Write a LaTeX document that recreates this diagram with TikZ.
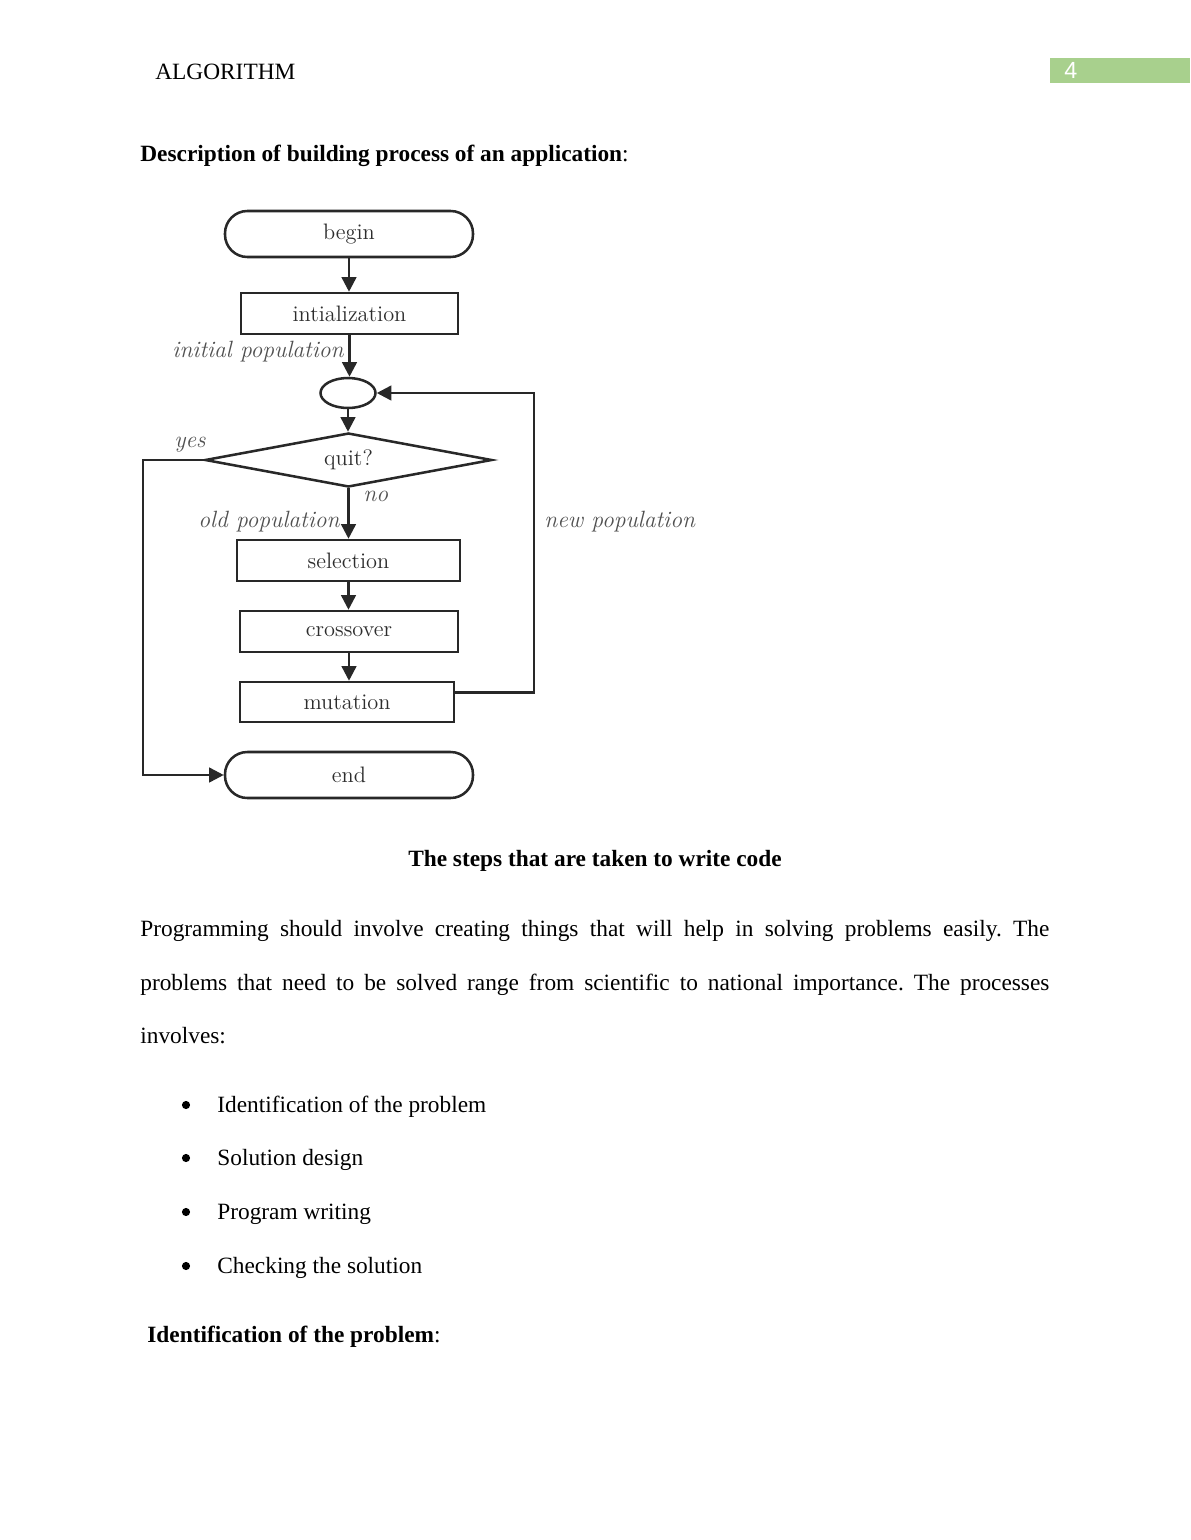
\documentclass[tikz,border=0pt]{standalone}
\usepackage{fontspec}
\newfontfamily\timesfont{Liberation Serif}
\newfontfamily\pagesans{Liberation Sans}
\usetikzlibrary{shapes.geometric,arrows.meta}
\def\pxu{0.5143pt}
\newcommand\txtbody{\timesfont\fontsize{12}{14.4}\selectfont\frenchspacing}
\newcommand\flfont{\rmfamily\fontsize{11.5}{13}\selectfont}
\newcommand\flital{\rmfamily\itshape\fontsize{12.1}{14}\selectfont}
\definecolor{linec}{RGB}{40,40,40}
\definecolor{flt}{RGB}{45,45,45}
\definecolor{lblc}{RGB}{80,80,80}
\definecolor{hdrgreen}{RGB}{168,208,141}
\begin{document}
\begin{tikzpicture}[x=0.5143pt,y=-0.5143pt,
  term/.style={draw=linec, line width=1.3pt, rounded corners=11.5pt, font=\flfont, text=flt, inner sep=0pt},
  proc/.style={draw=linec, line width=1.3pt, font=\flfont, text=flt, inner sep=0pt},
  conn/.style={draw=linec, line width=1.3pt, -{Triangle[width=7.5pt,length=7.5pt]}},
  lbl/.style={font=\flital, text=lblc, inner sep=0pt},
  txt/.style={font=\txtbody, inner sep=0pt},
  bul/.style={circle, fill=black, inner sep=0pt, minimum size=4.2pt}]
\useasboundingbox (0,0) rectangle (1190,1540);
\fill[white] (0,0) rectangle (1190,1540);
% header
\fill[hdrgreen] (1050,58) rectangle (1190,83);
\node[anchor=base west, font=\pagesans\fontsize{12}{14}\selectfont, text=white, inner sep=0pt] (pg) at (1064,78) {4};
\node[txt, anchor=base west] (hdr) at (155,79) {ALGORITHM};
\node[txt, anchor=base west] (desc) at (140,161) {\textbf{Description of building process of an application}:};
% flowchart
\node[term, minimum width=248*\pxu, minimum height=46*\pxu] (begin) at (349,234) {begin};
\node[proc, minimum width=217*\pxu, minimum height=41*\pxu] (init) at (349.5,313.5) {intialization};
\node[ellipse, draw=linec, line width=1.3pt, minimum width=55*\pxu, minimum height=30*\pxu, inner sep=0pt] (junc) at (348,393) {};
\node[diamond, draw=linec, line width=1.3pt, minimum width=287*\pxu, minimum height=54*\pxu, inner sep=0pt, aspect=5, font=\flfont, text=flt] (quit) at (348.5,460) {quit?};
\node[proc, minimum width=223*\pxu, minimum height=41*\pxu] (sel) at (348.5,560.5) {selection};
\node[proc, minimum width=218*\pxu, minimum height=41*\pxu] (cross) at (349,631.5) {crossover};
\node[proc, minimum width=214*\pxu, minimum height=40*\pxu] (mut) at (347,702) {mutation};
\node[term, minimum width=248*\pxu, minimum height=46*\pxu] (end) at (349,775) {end};
\coordinate (rt) at (534,393);
\coordinate (lt) at (143,461);
\draw[conn] (begin.south) -- (begin.south |- init.north);
\draw[conn] (init.south) -- (init.south |- junc.north);
\draw[conn] (junc.south) -- (junc.south |- quit.north);
\draw[conn] (quit.south) -- (quit.south |- sel.north);
\draw[conn] (sel.south) -- (sel.south |- cross.north);
\draw[conn] (cross.south) -- (cross.south |- mut.north);
\draw[conn] ([yshift=5pt]mut.east) -| (rt) -- (junc.east);
\draw[conn] (quit.west) -- (quit.west -| lt) |- (end.west);
\node[lbl, anchor=base east] (ip) at (344,357) {initial population};
\node[lbl, anchor=base west] (yes) at (174,447) {yes};
\node[lbl, anchor=base west] (no) at (363,501) {no};
\node[lbl, anchor=base east] (op) at (340,527) {old population};
\node[lbl, anchor=base west] (np) at (544,527) {new population};
% text
\node[txt, anchor=base, font=\txtbody\bfseries] (title) at (595,866) {The steps that are taken to write code};
\node[txt, anchor=base west] (p1) at (140,936) {\makebox[467.5pt][s]{Programming should involve creating things that will help in solving problems easily. The}};
\node[txt, anchor=base west] (p2) at (140,990) {\makebox[467.5pt][s]{problems that need to be solved range from scientific to national importance. The processes}};
\node[txt, anchor=base west] (p3) at (140,1043) {involves:};
\node[bul] (b1) at (186,1105) {};
\node[txt, anchor=base west] (t1) at (217,1112) {Identification of the problem};
\node[bul] (b2) at (186,1158) {};
\node[txt, anchor=base west] (t2) at (217,1165) {Solution design};
\node[bul] (b3) at (186,1212) {};
\node[txt, anchor=base west] (t3) at (217,1219) {Program writing};
\node[bul] (b4) at (186,1266) {};
\node[txt, anchor=base west] (t4) at (217,1273) {Checking the solution};
\node[txt, anchor=base west] (idp) at (147,1342) {\textbf{Identification of the problem}:};
\end{tikzpicture}
\end{document}
